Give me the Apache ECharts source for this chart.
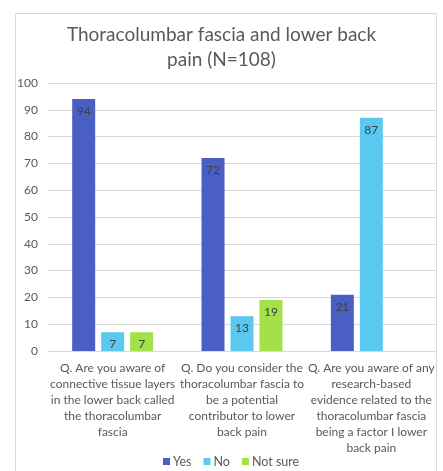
<!DOCTYPE html>
<html>
<head>
<meta charset="utf-8">
<script src="https://cdn.jsdelivr.net/npm/echarts@6/dist/echarts.min.js"></script>
<style>
  html, body { margin: 0; padding: 0; background: #fff; }
  #chart { width: 443px; height: 471px; }
</style>
</head>
<body>
<div id="chart"></div>
<script>
// Survey questions (wrapped as they appear under the axis)
const categories = [
  'Q. Are you aware of\nconnective tissue layers\nin the lower back called\nthe thoracolumbar\nfascia',
  'Q. Do you consider the\nthoracolumbar fascia to\nbe a potential\ncontributor to lower\nback pain',
  'Q. Are you aware of any\nresearch-based\nevidence related to the\nthoracolumbar fascia\nbeing a factor I lower\nback pain'
];
const yesValues = [94, 72, 21];
const noValues = [7, 13, 87];
const notSureValues = [7, 19, null];
const yTicks = [0, 10, 20, 30, 40, 50, 60, 70, 80, 90, 100];

const FONT = 'Lato, "Open Sans", sans-serif';
const TEXT = '#595959';

const chart = echarts.init(document.getElementById('chart'), null, { renderer: 'canvas' });

function barSeries(name, data, color) {
  return {
    name: name,
    type: 'bar',
    data: data,
    barWidth: 23,
    barGap: '26%',
    itemStyle: { color: color },
    label: {
      show: true,
      position: 'insideTop',
      distance: 6,
      color: '#404040',
      fontFamily: FONT,
      fontSize: 12
    }
  };
}

chart.setOption({
  animation: false,
  backgroundColor: '#ffffff',
  graphic: [{
    type: 'rect',
    shape: { x: 15.5, y: 13.5, width: 421, height: 470 },
    style: { fill: 'none', stroke: '#d9d9d9', lineWidth: 1 },
    silent: true,
    z: -1
  }],
  title: {
    text: 'Thoracolumbar fascia and lower back\npain (N=108)',
    left: 'center',
    top: 17,
    textStyle: {
      fontFamily: FONT,
      fontSize: 19,
      fontWeight: 'normal',
      color: TEXT,
      lineHeight: 25
    }
  },
  legend: {
    top: 450,
    left: 158,
    itemWidth: 7,
    itemHeight: 7,
    itemGap: 12,
    icon: 'rect',
    textStyle: { fontFamily: FONT, fontSize: 12.5, color: TEXT, padding: [0, 0, 0, -2] },
    data: ['Yes', 'No', 'Not sure']
  },
  grid: { left: 48, right: 7, top: 83, bottom: 120, containLabel: false },
  xAxis: {
    type: 'category',
    data: categories,
    axisLine: { lineStyle: { color: '#d9d9d9' } },
    axisTick: { show: false },
    axisLabel: {
      interval: 0,
      margin: 9,
      color: TEXT,
      fontFamily: FONT,
      fontSize: 12,
      lineHeight: 16
    }
  },
  yAxis: {
    type: 'value',
    min: yTicks[0],
    max: yTicks[yTicks.length - 1],
    interval: 10,
    axisLine: { show: false },
    axisTick: { show: false },
    splitLine: { lineStyle: { color: '#d9d9d9' } },
    axisLabel: {
      color: TEXT,
      fontFamily: FONT,
      fontSize: 12,
      margin: 10
    }
  },
  series: [
    barSeries('Yes', yesValues, '#4a5fc4'),
    barSeries('No', noValues, '#5bc8f0'),
    barSeries('Not sure', notSureValues, '#a3e04a')
  ]
});
</script>
</body>
</html>
